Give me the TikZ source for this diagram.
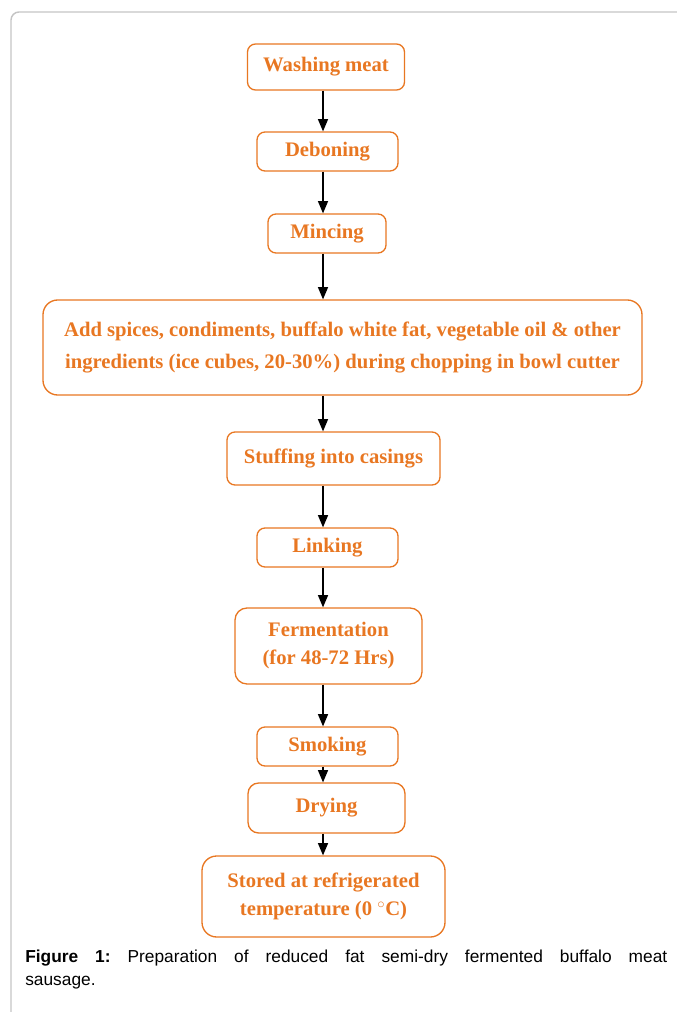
\documentclass[tikz,border=0pt]{standalone}
\usepackage{fontspec}
\setmainfont{Liberation Serif}
\newfontfamily\capfont{Liberation Sans}
\usetikzlibrary{arrows}
\definecolor{boxorange}{HTML}{E87722}
\definecolor{framegray}{HTML}{C4C4C4}
\tikzset{
  stepbox/.style = {draw = boxorange, line width = 1pt, rounded corners = 6pt,
    text = boxorange, align = center, inner sep = 0pt,
    font = \fontsize{15.5}{21}\selectfont\bfseries},
  post/.style = {-triangle 45, line width = 1.1pt}
}

\begin{document}
\begin{tikzpicture}[x = 0.75pt, y = -0.75pt]
\useasboundingbox (0,0) rectangle (677,1012);
\draw[framegray, line width = 1.1pt, rounded corners = 6pt] (11,12) rectangle (720,1060);
\node[stepbox, minimum width = 117.75pt, minimum height = 34.5pt] (v0) at (326,67) {Washing meat};
\node[stepbox, minimum width = 105.75pt, minimum height = 29.25pt] (v1) at (327.5,151.5) {Deboning};
\node[stepbox, minimum width = 88.5pt, minimum height = 29.25pt] (v2) at (327,233.5) {Mincing};
\node[stepbox, minimum width = 449.25pt, minimum height = 71.25pt, rounded corners = 11pt,
  font = \fontsize{15.5}{24}\selectfont\bfseries] (v3) at (342.5,347.5)
  {Add spices, condiments, buffalo white fat, vegetable oil \& other\\ingredients (ice cubes, 20-30\%) during chopping in bowl cutter};
\node[stepbox, minimum width = 159.75pt, minimum height = 39.75pt] (v4) at (333.5,458.5) {Stuffing into casings};
\node[stepbox, minimum width = 105.75pt, minimum height = 29.25pt] (v5) at (327.5,547.5) {Linking};
\node[stepbox, minimum width = 140.25pt, minimum height = 57pt, rounded corners = 9pt] (v6) at (328.5,646) {Fermentation\\(for 48-72 Hrs)};
\node[stepbox, minimum width = 105.75pt, minimum height = 29.25pt] (v7) at (327.5,746.5) {Smoking};
\node[stepbox, minimum width = 117.75pt, minimum height = 37.5pt, rounded corners = 8pt] (v8) at (326.5,808) {Drying};
\node[stepbox, minimum width = 182.25pt, minimum height = 60.75pt, rounded corners = 11pt] (v9) at (323.5,896.5) {Stored at refrigerated\\temperature (0 $^{\circ}$C)};
\coordinate (ax) at (323,0);
\draw[post] (v0.south -| ax) -- (v1.north -| ax);
\draw[post] (v1.south -| ax) -- (v2.north -| ax);
\draw[post] (v2.south -| ax) -- (v3.north -| ax);
\draw[post] (v3.south -| ax) -- (v4.north -| ax);
\draw[post] (v4.south -| ax) -- (v5.north -| ax);
\draw[post] (v5.south -| ax) -- (v6.north -| ax);
\draw[post] (v6.south -| ax) -- (v7.north -| ax);
\draw[post] (v7.south -| ax) -- (v8.north -| ax);
\draw[post] (v8.south -| ax) -- (v9.north -| ax);
% caption
\node[anchor = north west, inner sep = 0pt, text width = 481.5pt, align = justify,
  font = \capfont\fontsize{13}{17}\selectfont\frenchspacing] (cap) at (25,950)
  {\textbf{Figure 1:} Preparation of reduced fat semi-dry fermented buffalo meat\linebreak sausage.};
\end{tikzpicture}
\end{document}
